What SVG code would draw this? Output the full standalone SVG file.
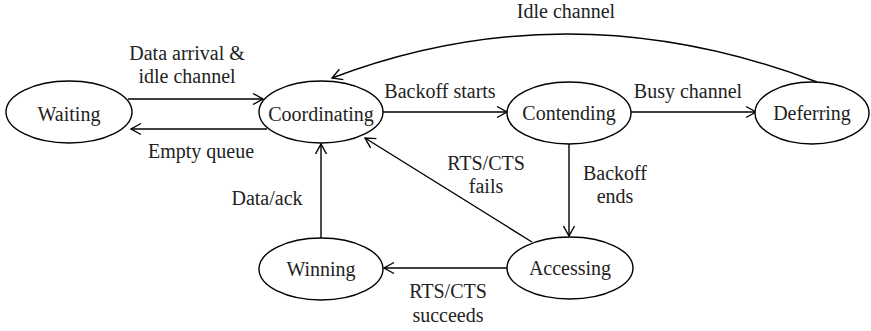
<svg xmlns="http://www.w3.org/2000/svg" width="871" height="331" viewBox="0 0 871 331">
<style>
.node ellipse{fill:#fff;stroke:#000;stroke-width:1.4}
text{font-family:"Liberation Serif","Times New Roman",serif;font-size:20px;fill:#222;text-anchor:middle}
.edge{fill:none;stroke:#000;stroke-width:1.4;marker-end:url(#arr)}
</style>
<defs>
<marker id="arr" markerUnits="userSpaceOnUse" markerWidth="14" markerHeight="14" viewBox="0 0 14 14" refX="12" refY="7" orient="auto">
<path d="M2,1.5 L12,7 L2,12.5" fill="none" stroke="#000" stroke-width="1.4"/>
</marker>
</defs>
<rect width="871" height="331" fill="#fff"/>
<g id="connectors">
<path class="edge" d="M128,99 L263,99"/>
<path class="edge" d="M267,129 L131,129"/>
<path class="edge" d="M383,112 L507,112"/>
<path class="edge" d="M631,112 L756,112"/>
<path class="edge" d="M569,144 L569,236"/>
<path class="edge" d="M507,268 L384,268"/>
<path class="edge" d="M321,238 L321,144"/>
<path class="edge" d="M532,242 L365,138"/>
<path class="edge" d="M817,82 Q570,-12 332,78"/>
<text x="187" y="60">Data arrival &amp;</text>
<text x="187" y="83">idle channel</text>
<text x="201" y="158">Empty queue</text>
<text x="440" y="98">Backoff starts</text>
<text x="688" y="98">Busy channel</text>
<text x="566" y="18">Idle channel</text>
<text x="486" y="170">RTS/CTS</text>
<text x="486" y="193">fails</text>
<text x="615" y="180">Backoff</text>
<text x="615" y="203">ends</text>
<text x="267" y="205">Data/ack</text>
<text x="448" y="298">RTS/CTS</text>
<text x="448" y="322">succeeds</text>
</g>
<g id="waiting" class="node"><ellipse cx="69" cy="112" rx="63" ry="31"/><text x="69" y="121">Waiting</text></g>
<g id="coordinating" class="node"><ellipse cx="321" cy="112" rx="62" ry="31"/><text x="321" y="121">Coordinating</text></g>
<g id="contending" class="node"><ellipse cx="569" cy="113" rx="62" ry="31"/><text x="569" y="120">Contending</text></g>
<g id="deferring" class="node"><ellipse cx="812" cy="113" rx="57" ry="31"/><text x="812" y="120">Deferring</text></g>
<g id="winning" class="node"><ellipse cx="321" cy="269" rx="62" ry="31"/><text x="321" y="276">Winning</text></g>
<g id="accessing" class="node"><ellipse cx="570" cy="268" rx="63" ry="31"/><text x="570" y="275">Accessing</text></g>
</svg>
